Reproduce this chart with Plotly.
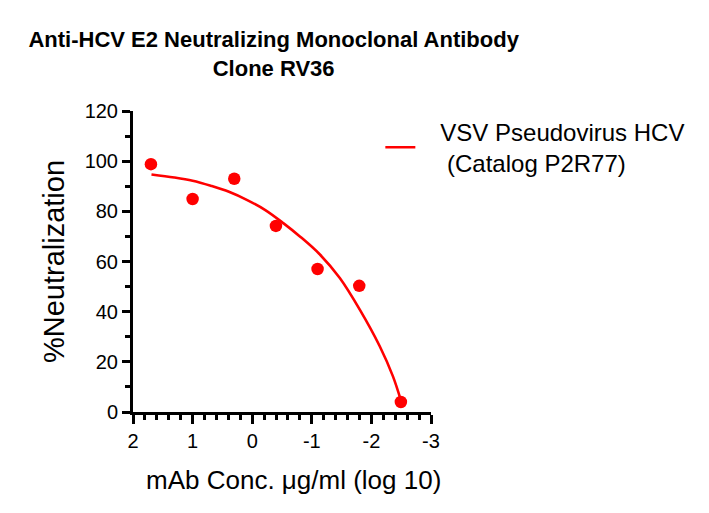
import plotly.graph_objects as go

# Data (log10 concentration, % neutralization)
log_conc = [1.699, 1.0, 0.301, -0.398, -1.097, -1.796, -2.495]
neutralization = [98.8, 84.9, 93.0, 74.2, 57.0, 50.3, 4.0]

# Fitted curve
fit_x = [1.69, 1.307, 1.0, 0.695, 0.39, 0.083, -0.22, -0.527, -0.805, -1.14, -1.47, -1.805, -2.14, -2.36, -2.49]
fit_y = [94.7, 93.5, 92.2, 90.2, 87.8, 84.5, 80.5, 75.2, 69.9, 62.7, 53.4, 40.8, 26.2, 14.3, 5.0]

x_ticks = [2, 1, 0, -1, -2, -3]
x_tick_labels = ["2", "1", "0", "-1", "-2", "-3"]
y_ticks = [0, 20, 40, 60, 80, 100, 120]

legend_name = "\u00a0\u00a0\u00a0VSV Pseudovirus HCV<br>\u00a0\u00a0\u00a0\u00a0(Catalog P2R77)"
title_text = "<b>Anti-HCV E2 Neutralizing Monoclonal Antibody<br>Clone RV36</b>"
x_title = "mAb Conc. \u03bcg/ml (log 10)"
y_title = "%Neutralization"

RED = "#FF0000"
FONT = "Arial, Liberation Sans, sans-serif"

fig = go.Figure()
fig.add_trace(go.Scatter(
    x=fit_x, y=fit_y, mode="lines", line=dict(color=RED, width=2.6, shape="spline"),
    name=legend_name, showlegend=True, hoverinfo="skip"))
fig.add_trace(go.Scatter(
    x=log_conc, y=neutralization, mode="markers",
    marker=dict(color=RED, size=12.5), showlegend=False))

axis_common = dict(
    showgrid=False, zeroline=False, showline=True, linecolor="black", linewidth=3,
    ticks="outside", tickcolor="black", tickwidth=3, automargin=False,
    tickfont=dict(family=FONT, size=20, color="black"),
)

fig.update_xaxes(
    range=[2, -3], tickvals=x_ticks, ticktext=x_tick_labels, ticklen=9,
    minor=dict(dtick=0.2, ticklen=5, tickwidth=3, tickcolor="black", ticks="outside"),
    **axis_common)
fig.update_yaxes(
    range=[0, 120], tickvals=y_ticks, ticklen=8,
    minor=dict(dtick=10, ticklen=5, tickwidth=3, tickcolor="black", ticks="outside"),
    title=dict(text=y_title, font=dict(family=FONT, size=29, color="black"), standoff=12),
    **axis_common)

fig.add_annotation(text=x_title, xref="paper", yref="paper", x=0.537, y=-0.226,
                   xanchor="center", yanchor="middle", showarrow=False,
                   font=dict(family=FONT, size=26, color="black"))

fig.update_layout(
    width=709, height=513,
    margin=dict(l=133, r=278, t=111, b=101),
    plot_bgcolor="white", paper_bgcolor="white",
    title=dict(text=title_text, x=0.386, xref="container", xanchor="center",
               y=0.908, yref="container", yanchor="top",
               font=dict(family=FONT, size=22, color="black")),
    legend=dict(x=0.83, xanchor="left", y=1.005, yanchor="top",
                font=dict(family=FONT, size=24, color="black"),
                bgcolor="rgba(0,0,0,0)"),
    font=dict(family=FONT, color="black"),
)

fig.write_html("out.html", config={"displayModeBar": False},
               post_script="document.body.style.margin='0';")
